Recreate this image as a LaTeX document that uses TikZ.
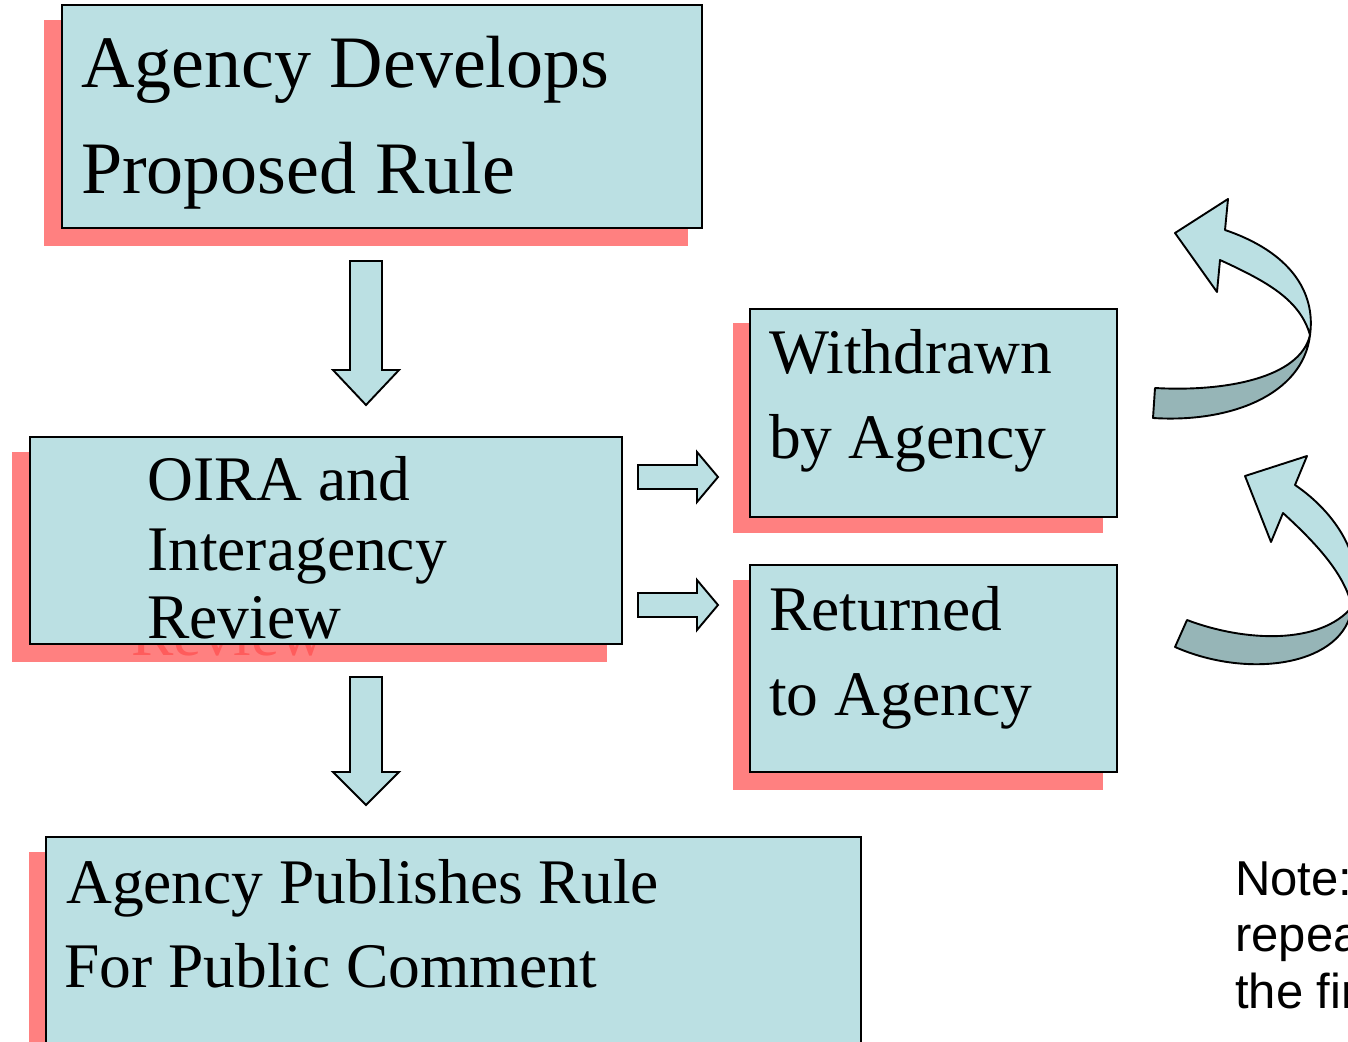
\documentclass[tikz,border=0pt]{standalone}
\usepackage{fontspec}
\setmainfont{Liberation Serif}
\newfontfamily\notefont{Liberation Sans}
\definecolor{boxfill}{RGB}{187,224,227}
\definecolor{shadowred}{RGB}{255,128,128}
\definecolor{shadowtext}{RGB}{255,92,92}
\definecolor{ribbon}{RGB}{150,181,183}
\begin{document}
\begin{tikzpicture}[x=1pt,y=-1pt,
  panel/.style={draw=black, line width=1.9pt, fill=boxfill, anchor=north west, inner sep=0pt, outer sep=0pt},
  shade/.style={fill=shadowred, draw=none, anchor=north west, inner sep=0pt, outer sep=0pt},
  big/.style={anchor=base west, inner sep=0pt, font=\fontsize{74}{74}\selectfont},
  label/.style={anchor=base west, inner sep=0pt, font=\fontsize{63.5}{63.5}\selectfont},
  note/.style={anchor=base west, inner sep=0pt, font=\notefont\fontsize{49}{49}\selectfont},
  blockarrow/.style={draw=black, line width=1.9pt, fill=boxfill, line join=miter},
  ribbonlight/.style={draw=black, line width=1.9pt, fill=boxfill, line join=round},
  ribbondark/.style={draw=black, line width=1.9pt, fill=ribbon, line join=round},
  ]
\useasboundingbox (0,0) rectangle (1348,1041);
\clip (0,0) rectangle (1348,1041);

% shadows
\node[shade, minimum width=644, minimum height=226] (developS) at (44,20) {};
\node[shade, minimum width=595, minimum height=210] (oiraS) at (12,452) {};
\node[shade, minimum width=370, minimum height=210] (withdrawnS) at (733,323) {};
\node[shade, minimum width=370, minimum height=210] (returnedS) at (733,580) {};
\node[shade, minimum width=830, minimum height=260] (publishS) at (29,852) {};
\node[label, text=shadowtext] (oiraStext) at (131,655) {Review};

% boxes
\node[panel, minimum width=640, minimum height=223] (develop) at (62,5) {};
\node[panel, minimum width=592, minimum height=207] (oira) at (30,437) {};
\node[panel, minimum width=367, minimum height=208] (withdrawn) at (750,309) {};
\node[panel, minimum width=367, minimum height=207] (returned) at (750,565) {};
\node[panel, minimum width=815, minimum height=260] (publish) at (46,837) {};

% box texts
\node[big] (developA) at (81,87) {Agency Develops};
\node[big] (developB) at (81,193) {Proposed Rule};
\node[label] (oiraA) at (147,500) {OIRA and};
\node[label] (oiraB) at (147,570) {Interagency};
\node[label] (oiraC) at (147,638) {Review};
\node[label] (withdrawnA) at (769,373) {Withdrawn};
\node[label] (withdrawnB) at (769,458) {by Agency};
\node[label] (returnedA) at (769,630) {Returned};
\node[label] (returnedB) at (769,715) {to Agency};
\node[label] (publishA) at (66,903) {Agency Publishes Rule};
\node[label] (publishB) at (64,987) {For Public Comment};

% block arrows between boxes
\draw[blockarrow] (350,261)--(382,261)--(382,370)--(399,370)--(366,405)--(333,370)--(350,370)--cycle;
\draw[blockarrow] (350,677)--(382,677)--(382,772)--(399,772)--(366,805)--(333,772)--(350,772)--cycle;
\draw[blockarrow] (638,465)--(697,465)--(697,452)--(718,477)--(697,502)--(697,489)--(638,489)--cycle;
\draw[blockarrow] (638,593)--(697,593)--(697,580)--(718,605)--(697,630)--(697,617)--(638,617)--cycle;

% upper curved ribbon arrow
\draw[ribbondark] (1310,335) .. controls (1303,395) and (1230,423) .. (1153,418)
  -- (1155,388) .. controls (1225,392) and (1300,378) .. cycle;
\draw[ribbonlight] (1225,230) .. controls (1290,252) and (1316,292) .. (1310,335)
  .. controls (1300,300) and (1268,282) .. (1220,260)
  -- (1217,292) -- (1175,233) -- (1228,199) -- cycle;

% lower curved ribbon arrow
\draw[ribbondark] (1352,607) .. controls (1345,665) and (1250,680) .. (1175,647)
  -- (1187,620) .. controls (1245,642) and (1320,645) .. cycle;
\draw[ribbonlight] (1295,485) .. controls (1335,512) and (1368,560) .. (1352,607)
  .. controls (1345,575) and (1318,545) .. (1283,513)
  -- (1271,542) -- (1245,476) -- (1307,456) -- cycle;

% note
\node[note] (noteA) at (1235,895) {Note:};
\node[note] (noteB) at (1235,951) {repea};
\node[note] (noteC) at (1235,1008) {the fir};
\end{tikzpicture}
\end{document}
